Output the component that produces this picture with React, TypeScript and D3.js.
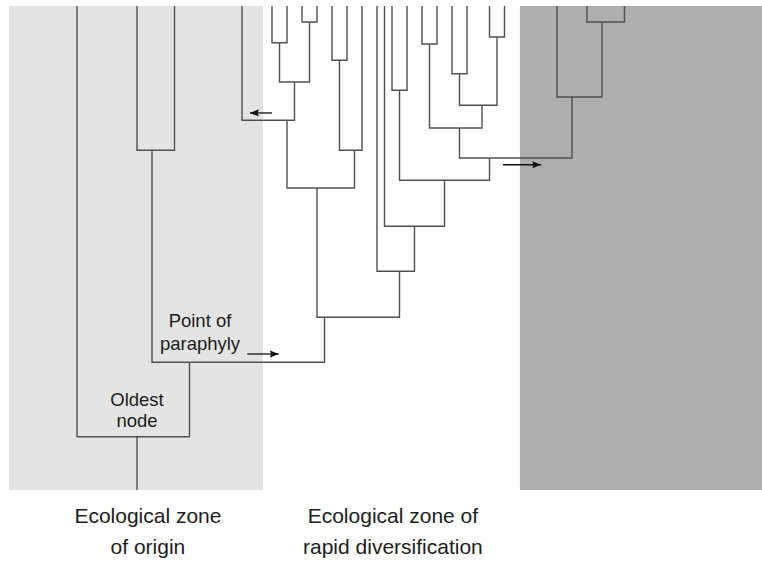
import React from 'react';
import * as d3 from 'd3';

// tree: node ids, parents, lineage position (x units) and age (0 = present, 100 = root)
const nodeIds = [
  'root', 'oldest', 'L1', 'para', 'bc', 'L2', 'L3', 'div',
  'a', 'a1', 'L4', 'a2', 'a3', 'L5', 'L6', 'a4', 'L7', 'L8', 'a5', 'a6', 'L9', 'L10', 'L11',
  'b', 'L12', 'b1', 'L13', 'b2', 'b3', 'L14', 'L15', 'b4', 'b5', 'b6', 'L16', 'L17',
  'b7', 'b8', 'L18', 'L19', 'b9', 'L20', 'L21', 'c', 'L22', 'c1', 'L23', 'L24',
];
const parentIds = [
  '', 'root', 'oldest', 'oldest', 'para', 'bc', 'bc', 'para',
  'div', 'a', 'a1', 'a1', 'a2', 'a3', 'a3', 'a2', 'a4', 'a4', 'a', 'a5', 'a6', 'a6', 'a5',
  'div', 'b', 'b', 'b1', 'b1', 'b2', 'b3', 'b3', 'b2', 'b4', 'b5', 'b6', 'b6',
  'b5', 'b7', 'b8', 'b8', 'b7', 'b9', 'b9', 'b4', 'c', 'c', 'c1', 'c1',
];
const nodePos = [
  4, 4, 0, 7.5, 5, 4, 6.5, 16.5,
  16, 14, 11, 14.5, 13.5, 13, 14, 15.5, 15, 16, 18.5, 17.5, 17, 18, 19,
  21.5, 20, 22.5, 20.5, 24.5, 21.5, 21, 22, 27.5, 25.5, 23.5, 23, 24,
  27, 25.5, 25, 26, 28, 27.5, 28.5, 33, 32, 35, 34, 36.5,
];
const nodeAge = [
  100, 89, 0, 73.6, 29.8, 0, 0, 64.3,
  37.6, 23.6, 0, 15.7, 7.6, 0, 0, 3.3, 0, 0, 29.8, 11.2, 0, 0, 0,
  54.8, 0, 45.5, 0, 36, 17.4, 0, 0, 31.4, 25.2, 7.85, 0, 0,
  20.5, 14, 0, 0, 6.4, 0, 0, 18.8, 0, 3.3, 0, 0,
];

// ecological zones (shaded bands), in lineage-position units
const zoneStart = [-4.53, 29.53];
const zoneEnd = [12.4, 45.7];
const zoneFill = ['#e4e4e4', '#afafaf'];

// dispersal arrows
const arrowFrom = [13, 28.4, 11.35];
const arrowTo = [11.53, 30.95, 13.45];
const arrowAge = [22.1, 32.8, 71.9];

// annotations inside the tree
const noteLines = [['Oldest', 'node'], ['Point of', 'paraphyly']];
const notePos = [4, 8.2];
const noteAge = [[82.6, 87], [66.4, 71.1]];

// zone captions under the chart
const captionLines = [['Ecological zone', 'of origin'], ['Ecological zone of', 'rapid diversification']];
const captionPos = [4.73, 21.06];

export default function App() {
  const width = 762;
  const height = 562;

  const x = d3.scaleLinear().domain([0, 36.5]).range([77, 624.5]);
  const y = d3.scaleLinear().domain([0, 100]).range([6, 490]);

  const table = nodeIds.map((id, i) => ({ id, parent: parentIds[i] || null, pos: nodePos[i], age: nodeAge[i] }));
  const root = d3.stratify<any>().id(d => d.id).parentId(d => d.parent)(table);

  const links = root.links().map(l => {
    const p = l.source.data, c = l.target.data;
    return `M${x(c.pos)},${y(c.age)}V${y(p.age)}H${x(p.pos)}`;
  });

  const font = '"Liberation Sans", Arial, Helvetica, sans-serif';

  return (
    <svg width={width} height={height} style={{ position: 'absolute', left: 0, top: 0, background: '#fff' }}>
      <defs>
        <marker id="head" viewBox="0 0 10 8" refX="10" refY="4" markerWidth="9" markerHeight="8"
          markerUnits="userSpaceOnUse" orient="auto">
          <path d="M0,0L10,4L0,8L1.5,4Z" fill="#111" />
        </marker>
      </defs>

      {zoneStart.map((s, i) => (
        <rect key={i} x={x(s)} y={y(0)} width={x(zoneEnd[i]) - x(s)} height={y(100) - y(0)} fill={zoneFill[i]} />
      ))}

      <g fill="none" stroke="#505050" strokeWidth={1.4}>
        {links.map((d, i) => <path key={i} d={d} />)}
      </g>

      <g stroke="#111" strokeWidth={1.3}>
        {arrowFrom.map((f, i) => (
          <line key={i} x1={x(f)} x2={x(arrowTo[i])} y1={y(arrowAge[i])} y2={y(arrowAge[i])} markerEnd="url(#head)" />
        ))}
      </g>

      <g fontFamily={font} fontSize={18.5} fill="#1c1c1c" textAnchor="middle">
        {noteLines.map((lines, i) => lines.map((t, j) => (
          <text key={`${i}-${j}`} x={x(notePos[i])} y={y(noteAge[i][j])}>{t}</text>
        )))}
      </g>

      <g fontFamily={font} fontSize={21} fill="#1c1c1c" textAnchor="middle">
        {captionLines.map((lines, i) => lines.map((t, j) => (
          <text key={`${i}-${j}`} x={x(captionPos[i])} y={523 + j * 30.5}>{t}</text>
        )))}
      </g>
    </svg>
  );
}
